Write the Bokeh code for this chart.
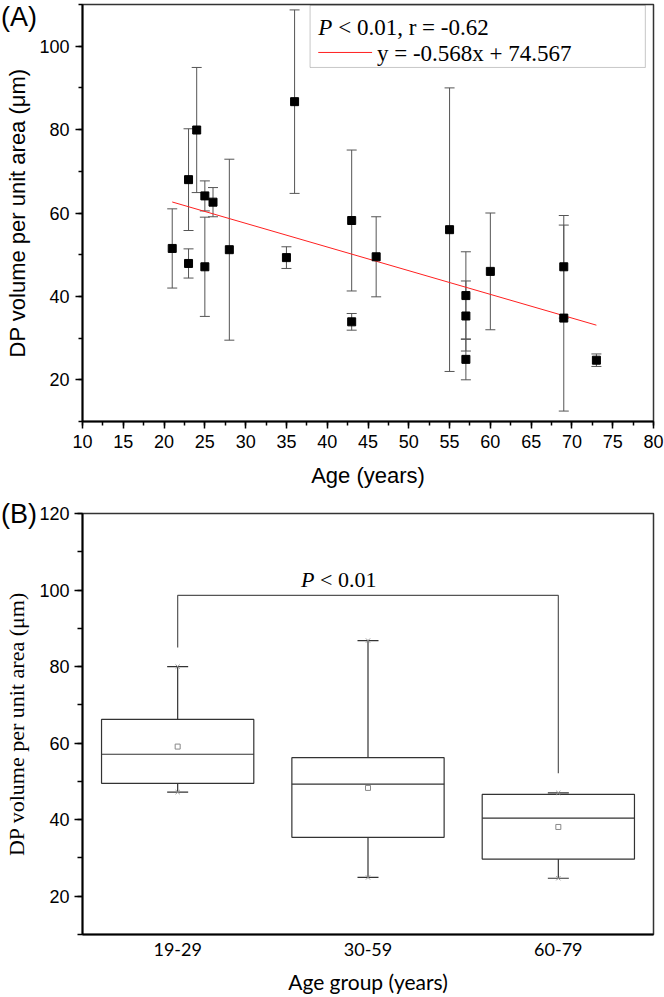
from bokeh.plotting import figure
from bokeh.models import Range1d, FactorRange, SingleIntervalTicker, BoxAnnotation, Div
from bokeh.layouts import column
from bokeh.core.properties import value
from bokeh.embed import file_html
from bokeh.resources import INLINE

# ---------------- data ----------------
ages = [21, 23, 23, 24, 25, 25, 26, 28, 35, 36, 43, 43, 46, 55, 57, 57, 57, 60, 69, 69, 73]
dp_mean = [51.5, 68.0, 47.9, 79.9, 64.1, 47.1, 62.6, 51.2, 49.3, 86.7, 58.2, 33.9,
           49.5, 56.0, 40.2, 35.3, 24.9, 46.0, 47.1, 34.8, 24.7]
dp_sd = [9.5, 12.2, 3.5, 15.0, 3.6, 11.9, 3.5, 21.7, 2.6, 22.0, 16.9, 2.0,
         9.6, 34.0, 10.5, 8.4, 4.9, 14.0, 12.3, 22.3, 1.5]

fit_slope = -0.568
fit_intercept = 74.567
fit_p_text = "< 0.01, r = -0.62"

groups = ["19-29", "30-59", "60-79"]
grp_q1 = [49.5, 35.4, 29.7]
grp_median = [57.1, 49.3, 40.4]
grp_q3 = [66.2, 56.2, 46.6]
grp_min = [47.2, 24.9, 24.7]
grp_max = [80.0, 86.8, 47.0]
grp_mean = [59.1, 48.3, 38.1]

SANS = "Liberation Sans"
SERIF = "Liberation Serif"

# ---------------- panel A ----------------
p1 = figure(width=664, height=490, x_range=Range1d(10, 80), y_range=Range1d(10, 110),
            output_backend="svg", toolbar_location=None,
            min_border_left=80, min_border_right=11, min_border_top=4, min_border_bottom=5)
p1.grid.visible = False
p1.outline_line_color = "#333333"
p1.outline_line_width = 1.5

p1.xaxis.ticker = SingleIntervalTicker(interval=5, num_minor_ticks=2)
p1.yaxis.ticker = SingleIntervalTicker(interval=20, num_minor_ticks=2)
for ax in (p1.xaxis[0], p1.yaxis[0]):
    ax.axis_line_width = 2
    ax.axis_line_color = "black"
    ax.major_tick_in = 0
    ax.major_tick_out = 7
    ax.minor_tick_in = 0
    ax.minor_tick_out = 4
    ax.major_tick_line_width = 1.5
    ax.minor_tick_line_width = 1.5
    ax.major_label_text_font = SANS
    ax.major_label_text_font_size = "18px"
    ax.major_label_text_color = "black"
    ax.axis_label_text_font = SANS
    ax.axis_label_text_font_size = "22px"
    ax.axis_label_text_font_style = "normal"
    ax.axis_label_text_color = "black"
p1.xaxis.axis_label = "Age (years)"
p1.yaxis.axis_label = "DP volume per unit area (μm)"
p1.xaxis.major_label_standoff = 6
p1.xaxis.axis_label_standoff = 12
p1.yaxis.major_label_standoff = 6
p1.yaxis.axis_label_standoff = 6

upper = [m + s for m, s in zip(dp_mean, dp_sd)]
lower = [m - s for m, s in zip(dp_mean, dp_sd)]
p1.segment(x0=ages, y0=lower, x1=ages, y1=upper, line_color="#555555", line_width=1)
p1.scatter(x=ages + ages, y=upper + lower, marker="dash", size=10,
           line_color="#555555", line_width=1)

fx = [min(ages), max(ages)]
fy = [fit_slope * v + fit_intercept for v in fx]
p1.line(x=fx, y=fy, line_color="#ff2020", line_width=1)

p1.scatter(x=ages, y=dp_mean, marker="square", size=8, fill_color="black", line_color="black")

# legend box
p1.add_layout(BoxAnnotation(left=37.9, right=79.0, top=109.8, bottom=94.9,
                            fill_color=None, line_color="#444444", line_width=1))
p1.text(x=[38.9], y=[104.6], text=["P"], text_font=value(SERIF), text_font_style="italic",
        text_font_size="23px", text_baseline="middle", text_color="black")
p1.text(x=[38.9], y=[104.6], text=[fit_p_text], x_offset=20, text_font=value(SERIF),
        text_font_size="23px", text_baseline="middle", text_color="black")
p1.segment(x0=[38.9], y0=[98.5], x1=[45.5], y1=[98.5], line_color="#ff2020", line_width=1)
p1.text(x=[46.1], y=[98.2], text=[f"y = {fit_slope}x + {fit_intercept}"], text_font=value(SERIF),
        text_font_size="23px", text_baseline="middle", text_color="black")

# ---------------- panel B ----------------
p2 = figure(width=664, height=506, x_range=FactorRange(*groups), y_range=Range1d(10, 120),
            output_backend="svg", toolbar_location=None,
            min_border_left=82, min_border_right=6, min_border_top=23, min_border_bottom=5)
p2.grid.visible = False
p2.outline_line_color = "#333333"
p2.outline_line_width = 1.5

p2.yaxis.ticker = SingleIntervalTicker(interval=20, num_minor_ticks=2)
ya = p2.yaxis[0]
ya.axis_line_width = 2
ya.axis_line_color = "black"
ya.major_tick_in = 0
ya.major_tick_out = 8
ya.minor_tick_in = 0
ya.minor_tick_out = 5
ya.major_tick_line_width = 1.5
ya.minor_tick_line_width = 1.5
ya.major_label_text_font = SANS
ya.major_label_text_font_size = "18px"
ya.major_label_text_color = "black"
ya.major_label_standoff = 5
ya.axis_label = "DP volume per unit area (μm)"
ya.axis_label_text_font = SERIF
ya.axis_label_text_font_size = "22px"
ya.axis_label_text_font_style = "normal"
ya.axis_label_text_color = "black"
ya.axis_label_standoff = 7

xa = p2.xaxis[0]
xa.axis_line_width = 2
xa.axis_line_color = "black"
xa.major_tick_in = 0
xa.major_tick_out = 0
xa.minor_tick_line_color = None
xa.major_label_text_font = "Lato"
xa.major_label_text_font_size = "18px"
xa.major_label_text_color = "black"
xa.major_label_standoff = 8
xa.axis_label = "Age group (years)"
xa.axis_label_text_font = "Lato"
xa.axis_label_text_font_size = "21px"
xa.axis_label_text_font_style = "normal"
xa.axis_label_text_color = "black"
xa.axis_label_standoff = 10

BOX = "#333333"
p2.segment(x0=groups, y0=grp_q3, x1=groups, y1=grp_max, line_color=BOX, line_width=1.2)
p2.segment(x0=groups, y0=grp_q1, x1=groups, y1=grp_min, line_color=BOX, line_width=1.2)
p2.vbar(x=groups, bottom=grp_q1, top=grp_q3, width=0.8, fill_color="white",
        line_color=BOX, line_width=1.2)
p2.vbar(x=groups, bottom=grp_median, top=grp_median, width=0.8, fill_color=None,
        line_color=BOX, line_width=1.2)
p2.scatter(x=groups + groups, y=grp_max + grp_min, marker="dash", size=21,
           line_color=BOX, line_width=1.2)
p2.scatter(x=groups + groups, y=grp_max + grp_min, marker="x", size=6,
           line_color="#999999", line_width=1)
p2.scatter(x=groups, y=grp_mean, marker="square", size=5, fill_color="white",
           line_color="#888888", line_width=1)

# significance bracket
p2.line(x=[groups[0], groups[0], groups[2], groups[2]], y=[85.0, 98.6, 98.6, 52.1],
        line_color="#555555", line_width=1.2)
p2.text(x=[groups[1]], y=[102.8], text=["P"], x_offset=-67, text_font=value(SERIF),
        text_font_style="italic", text_font_size="22px", text_baseline="middle",
        text_color="black")
p2.text(x=[groups[1]], y=[102.8], text=["< 0.01"], x_offset=-48, text_font=value(SERIF),
        text_font_size="22px", text_baseline="middle", text_color="black")

# panel letters (outside the plot frames)
label_css = {"position": "absolute", "font-family": SANS, "font-size": "27px",
             "line-height": "1.1", "color": "black", "margin": "0", "padding": "0"}
div_a = Div(text="(A)", styles=dict(label_css, left="1px", top="3px"))
div_b = Div(text="(B)", styles=dict(label_css, left="1px", top="500px"))

layout = column(p1, p2, div_a, div_b)
with open("out.html", "w") as f:
    f.write(file_html(layout, INLINE))
